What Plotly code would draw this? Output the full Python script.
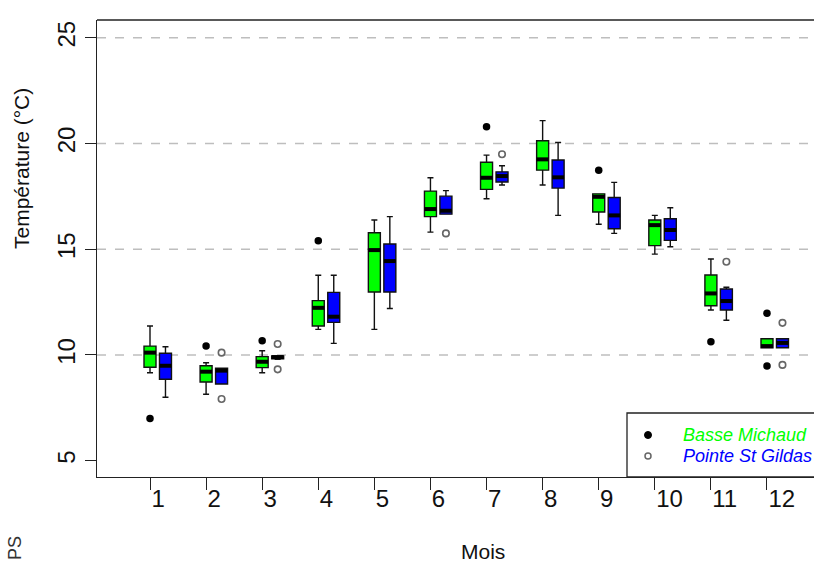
import plotly.graph_objects as go

# ---------------- data ----------------
months = list(range(1, 13))
month_labels = [str(m) for m in months]
series_names = ["Basse Michaud", "Pointe St Gildas"]

# Basse Michaud (green)
bm_low = [9.16, 8.14, 9.16, 11.21, 11.21, 15.81, 17.39, 18.04, 16.18, 14.77, 12.13, 10.34]
bm_q1 = [9.42, 8.72, 9.40, 11.37, 12.98, 16.54, 17.83, 18.74, 16.76, 15.17, 12.33, 10.34]
bm_med = [10.11, 9.21, 9.68, 12.23, 14.96, 16.90, 18.38, 19.25, 17.48, 16.14, 12.91, 10.42]
bm_q3 = [10.42, 9.49, 9.92, 12.57, 15.78, 17.75, 19.11, 20.13, 17.62, 16.38, 13.78, 10.77]
bm_high = [11.37, 9.63, 10.20, 13.77, 16.38, 18.38, 19.45, 21.08, 17.62, 16.60, 14.54, 10.77]
bm_out_month = [1, 2, 3, 4, 7, 9, 11, 12, 12]
bm_out_value = [7.00, 10.42, 10.67, 15.40, 20.79, 18.74, 10.63, 11.97, 9.48]

# Pointe St Gildas (blue)
psg_low = [8.00, 8.63, 9.80, 10.55, 12.20, 16.66, 18.04, 16.60, 15.75, 15.12, 11.64, 10.34]
psg_q1 = [8.85, 8.63, 9.82, 11.54, 12.98, 16.66, 18.18, 17.89, 15.97, 15.42, 12.13, 10.34]
psg_med = [9.49, 9.26, 9.90, 11.81, 14.44, 16.82, 18.46, 18.40, 16.60, 15.91, 12.55, 10.57]
psg_q3 = [10.08, 9.37, 9.95, 12.96, 15.25, 17.51, 18.66, 19.22, 17.45, 16.44, 13.12, 10.77]
psg_high = [10.39, 9.37, 9.95, 13.77, 16.54, 17.77, 18.95, 20.05, 18.16, 16.96, 13.20, 10.77]
psg_out_month = [2, 2, 3, 3, 6, 7, 11, 12, 12]
psg_out_value = [10.11, 7.92, 10.52, 9.32, 15.75, 19.49, 14.41, 11.52, 9.53]

y_ticks = [5, 10, 15, 20, 25]
grid_values = [10, 15, 20, 25]

# ---------------- style ----------------
GREEN = "#00FF00"
BLUE = "#0000FF"
FONT = "Liberation Sans, Arial, sans-serif"
OFFSET = 0.276   # blue box shift (months)
BOXW = 0.214     # box width (months)

x_green = [m for m in months]
x_blue = [m + OFFSET for m in months]

fig = go.Figure()

def add_boxes(xs, lo, q1, med, q3, hi, color, name):
    fig.add_trace(go.Box(
        x=xs, lowerfence=lo, q1=q1, median=med, q3=q3, upperfence=hi,
        width=BOXW, whiskerwidth=0.5, fillcolor=color,
        line=dict(color="#111111", width=1.4), boxpoints=False,
        name=name, showlegend=False, hoverinfo="skip"))
    # thick median bar
    fig.add_trace(go.Scatter(
        x=xs, y=med, mode="markers", showlegend=False, hoverinfo="skip",
        marker=dict(symbol="line-ew", size=8.5,
                    line=dict(color="#000000", width=4))))

add_boxes(x_green, bm_low, bm_q1, bm_med, bm_q3, bm_high, GREEN, series_names[0])
add_boxes(x_blue, psg_low, psg_q1, psg_med, psg_q3, psg_high, BLUE, series_names[1])

fig.add_trace(go.Scatter(
    x=bm_out_month, y=bm_out_value, mode="markers", showlegend=False,
    marker=dict(symbol="circle", size=7.5, color="#000000")))
fig.add_trace(go.Scatter(
    x=[m + OFFSET for m in psg_out_month], y=psg_out_value, mode="markers",
    showlegend=False,
    marker=dict(symbol="circle-open", size=6.5, color="#666666",
                line=dict(width=1.6, color="#666666"))))

shapes = []
for g in grid_values:
    shapes.append(dict(type="line", xref="paper", yref="y", x0=0, x1=1, y0=g, y1=g,
                       line=dict(color="#BEBEBE", width=1.3, dash="dash"), layer="below"))
# top frame line
shapes.append(dict(type="line", xref="paper", yref="paper", x0=0, x1=1, y0=1, y1=1,
                   line=dict(color="#222222", width=1.4)))

# manual legend
LX0 = (627 - 97) / 717
LY1 = (477 - 413) / 457
shapes.append(dict(type="rect", xref="paper", yref="paper", x0=LX0, x1=1.05, y0=0, y1=LY1,
                   line=dict(color="#222222", width=1.3), fillcolor="white", layer="above"))
mx = (648 - 97) / 717
my1 = (477 - 435) / 457
my2 = (477 - 456) / 457
shapes.append(dict(type="circle", xref="paper", yref="paper", xsizemode="pixel",
                   ysizemode="pixel", xanchor=mx, yanchor=my1, x0=-3.5, x1=3.5,
                   y0=-3.5, y1=3.5, fillcolor="#000000", line=dict(color="#000000", width=1)))
shapes.append(dict(type="circle", xref="paper", yref="paper", xsizemode="pixel",
                   ysizemode="pixel", xanchor=mx, yanchor=my2, x0=-3, x1=3,
                   y0=-3, y1=3, fillcolor="white", line=dict(color="#666666", width=1.5)))

tx = (681 - 97) / 717
annotations = [
    dict(text="<i>" + series_names[0] + "</i>", x=tx, y=my1, xref="paper", yref="paper",
         xanchor="left", yanchor="middle", showarrow=False,
         font=dict(family=FONT, size=18, color=GREEN)),
    dict(text="<i>" + series_names[1] + "</i>", x=tx, y=my2, xref="paper", yref="paper",
         xanchor="left", yanchor="middle", showarrow=False,
         font=dict(family=FONT, size=18, color=BLUE)),
    dict(text="Mois", x=(483 - 97) / 717, y=(477 - 551) / 457, xref="paper", yref="paper",
         xanchor="center", yanchor="middle", showarrow=False,
         font=dict(family=FONT, size=21, color="#111111")),
    dict(text="Température (°C)", x=(22 - 97) / 717, y=(477 - 169) / 457,
         xref="paper", yref="paper", xanchor="center", yanchor="middle",
         textangle=-90, showarrow=False,
         font=dict(family=FONT, size=21, color="#111111")),
    dict(text="PS", x=(15 - 97) / 717, y=(477 - 548) / 457,
         xref="paper", yref="paper", xanchor="center", yanchor="middle",
         textangle=-90, showarrow=False,
         font=dict(family=FONT, size=18, color="#333333")),
]

fig.update_layout(
    width=814, height=566,
    margin=dict(l=97, r=0, t=20, b=89, autoexpand=False),
    plot_bgcolor="white", paper_bgcolor="white",
    showlegend=False,
    shapes=shapes, annotations=annotations,
    font=dict(family=FONT, color="#111111"),
)
fig.update_xaxes(
    range=[1 - 53 / 56.09, 1 + 664 / 56.09],
    tickmode="array", tickvals=months, ticktext=month_labels,
    ticks="outside", ticklen=12, tickwidth=1.4, tickcolor="#222222",
    ticklabelposition="outside right",
    showline=True, linecolor="#222222", linewidth=1.4,
    showgrid=False, zeroline=False,
    tickfont=dict(family=FONT, size=24, color="#111111"),
)
fig.update_yaxes(
    range=[4.23, 25.84],
    tickmode="array", tickvals=y_ticks,
    ticks="outside", ticklen=11, tickwidth=1.4, tickcolor="#222222",
    tickangle=-90,
    showline=True, linecolor="#222222", linewidth=1.4,
    showgrid=False, zeroline=False,
    tickfont=dict(family=FONT, size=24, color="#111111"),
)

fig.write_html("out.html")
